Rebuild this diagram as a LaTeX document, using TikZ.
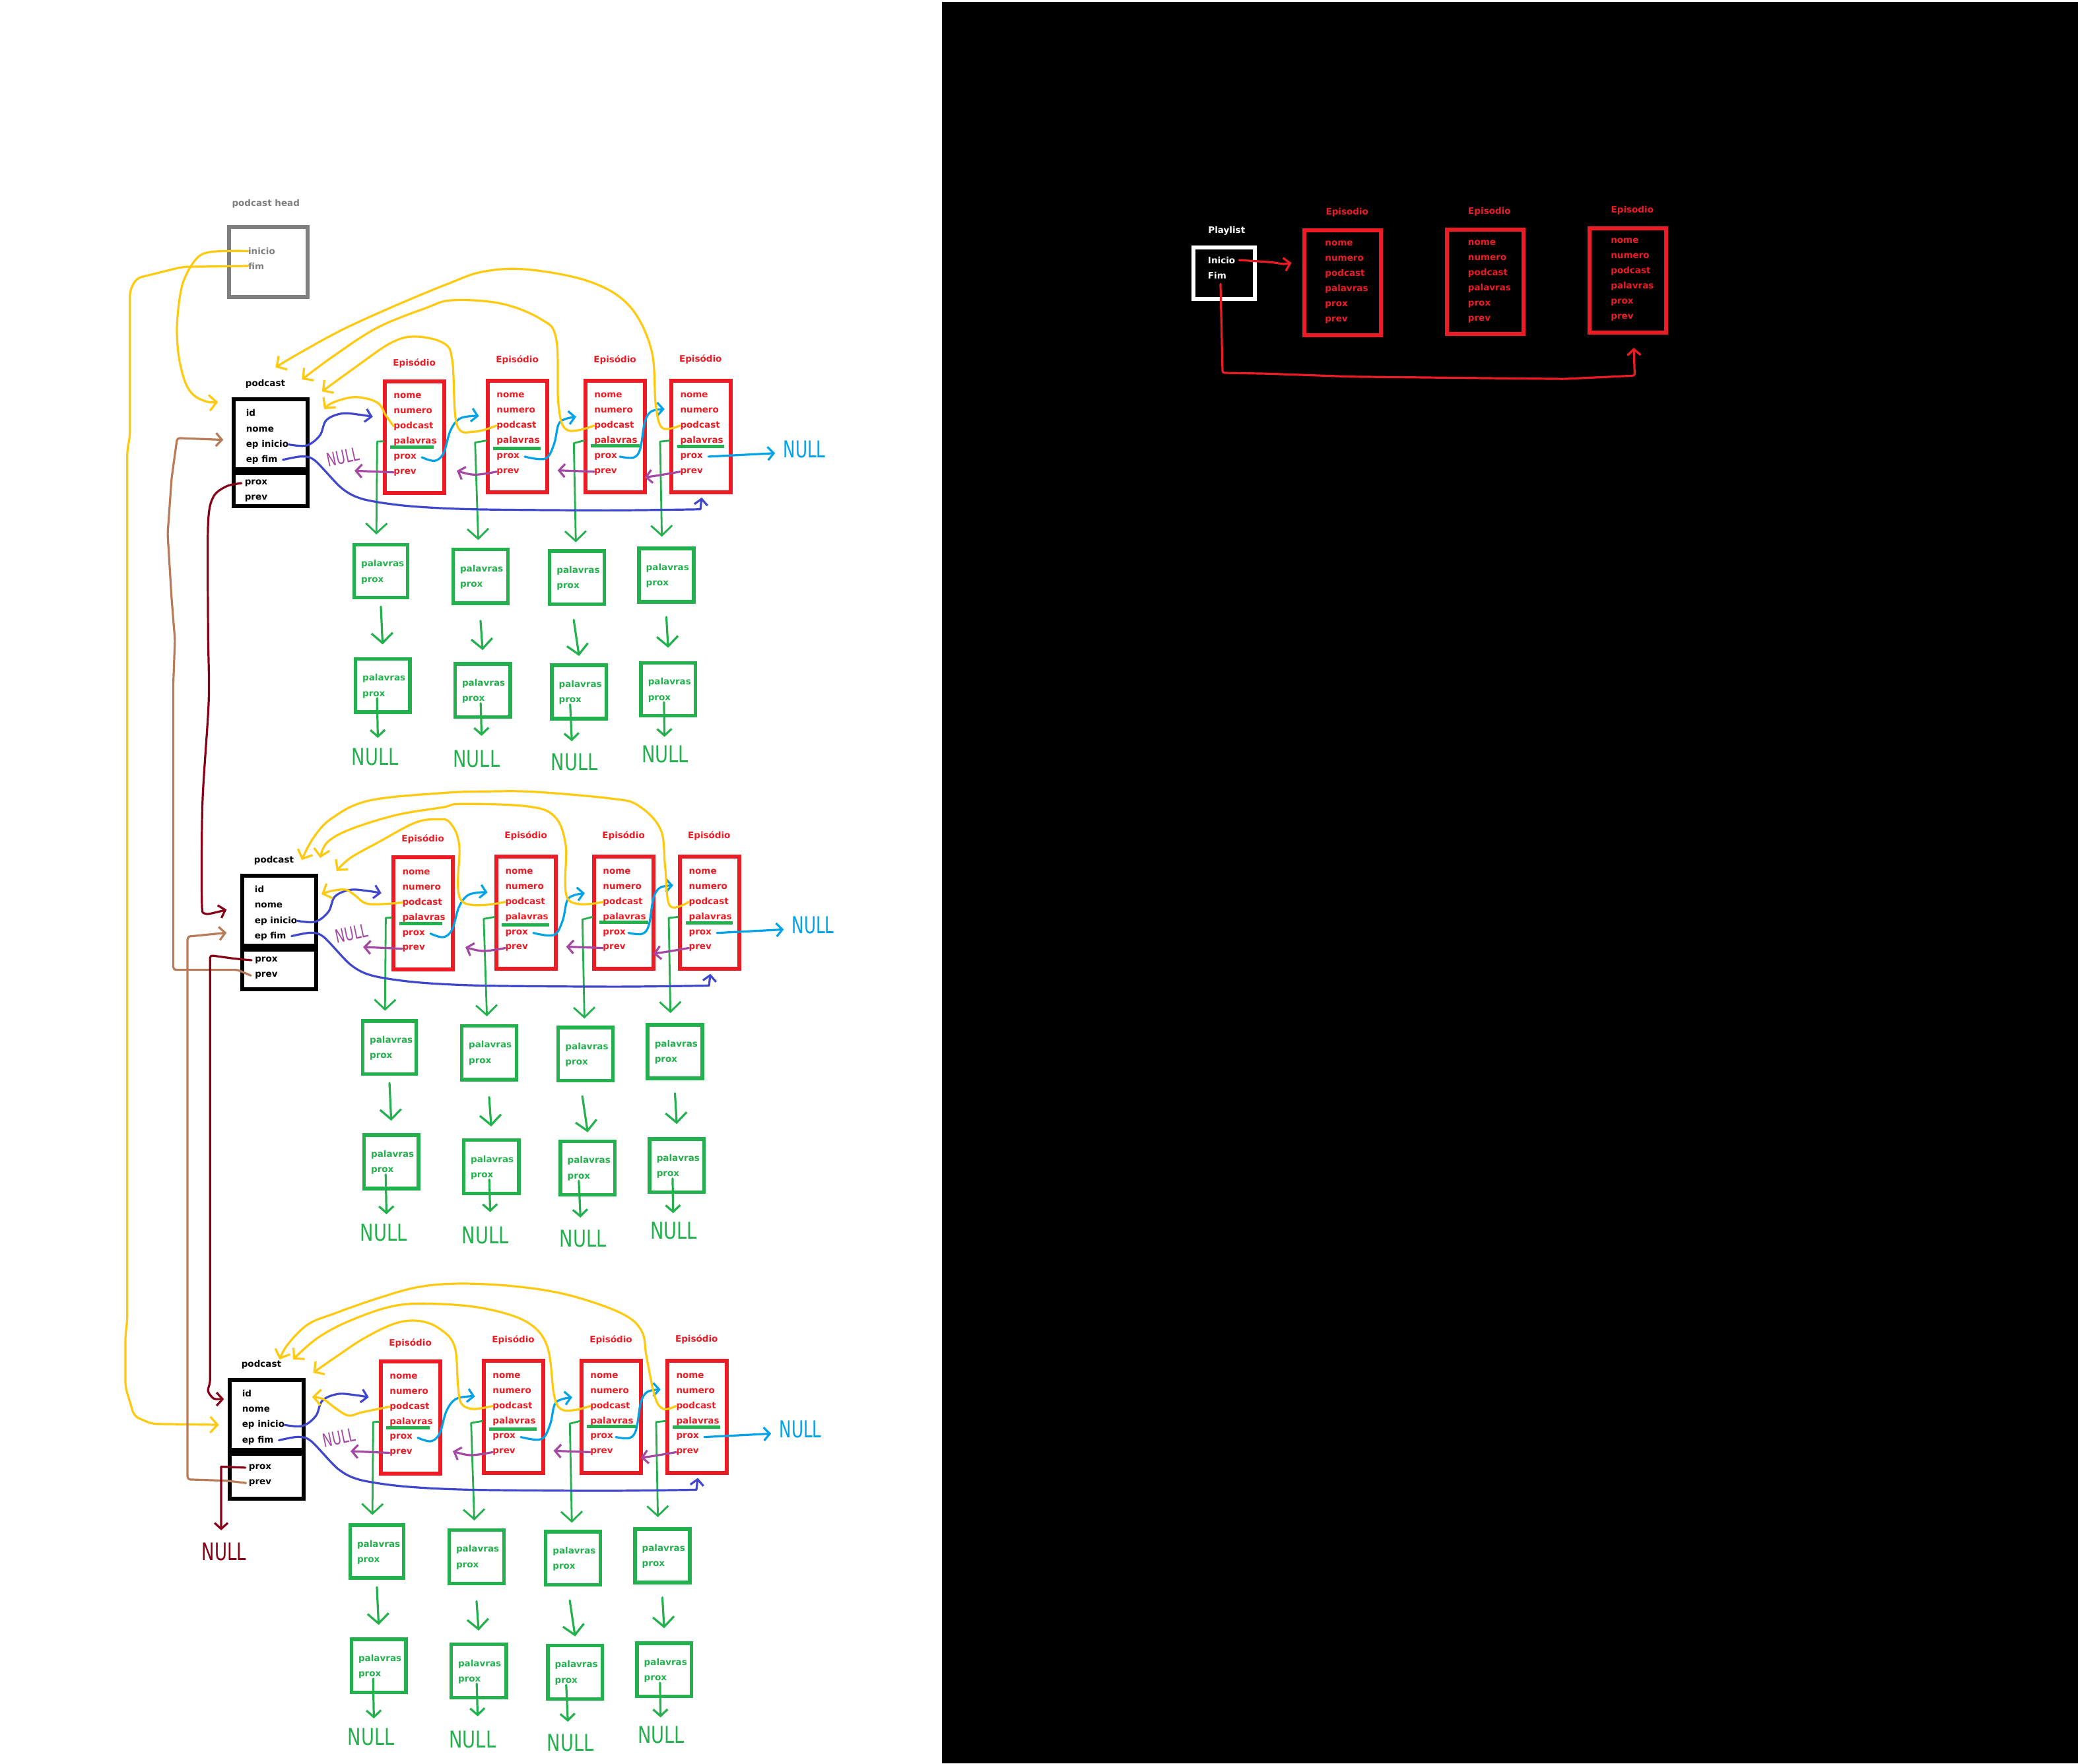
\documentclass[tikz,border=0pt]{standalone}
\usepackage{graphicx}
\usepackage{fontspec}
\setmainfont{DejaVu Sans}
\usetikzlibrary{arrows.meta}
\definecolor{pred}{HTML}{ED1C24}
\definecolor{pgreen}{HTML}{22B14C}
\definecolor{pyel}{HTML}{FFC90E}
\definecolor{pblue}{HTML}{3F48CC}
\definecolor{pcyan}{HTML}{00A2E8}
\definecolor{ppur}{HTML}{A349A4}
\definecolor{pbrown}{HTML}{B97A57}
\definecolor{pmar}{HTML}{880015}
\definecolor{pgray}{HTML}{7F7F7F}
\newcommand\pxu{2.0077pt}
\tikzset{
 txt/.style={font=\fontsize{13.5}{16}\selectfont\bfseries, anchor=base west, inner sep=0pt},
 lab/.style={font=\fontsize{13.5}{16}\selectfont\bfseries, inner sep=0pt},
 bx/.style={draw=#1, line width=6pt, inner sep=0pt},
 wire/.style={line width=3.2pt, line cap=round, line join=round},
 barb/.style={-{Straight Barb[length=9pt,width=20pt]}},
 ybarb/.style={-{Straight Barb[length=11pt,width=24pt]}},
 gbarb/.style={-{Straight Barb[length=15pt,width=32pt]}},
 sbarb/.style={-{Straight Barb[length=10pt,width=22pt]}},
 nul/.style={font=\fontsize{26}{26}\selectfont, inner sep=0pt},
 nulp/.style={font=\fontsize{20}{20}\selectfont, inner sep=0pt},
}
% episode box: name, left x, top y, text x, label y
\newcommand\epi[5]{%
 \node[bx=pred, minimum width={(47.7-3)*\pxu}, minimum height={(87.4-3)*\pxu}] (#1) at ({#2+23.85},{#3+43.7}) {};
 \node[lab,text=pred] (#1l) at ({#2+23.6},#5) {Episódio};
 \foreach \w [count=\i] in {nome,numero,podcast,palavras,prox,prev}
   \node[txt,text=pred] (#1t\i) at (#4,{#3+14.6+(\i-1)*11.38}) {\w};
}
% word box: name, x1, y1, x2, y2
\newcommand\wbx[5]{%
 \node[bx=pgreen, line width=5.5pt, minimum width={(#4-#2-2.7)*\pxu}, minimum height={(#5-#3-2.7)*\pxu}] (#1) at ({(#2+#4)/2},{(#3+#5)/2}) {};
 \node[txt,text=pgreen] (#1a) at ({#2+6.6},{#3+18}) {palavras};
 \node[txt,text=pgreen] (#1b) at ({#2+6.6},{#3+29.6}) {prox};
}
% playlist episode box
\newcommand\repi[8]{%
 \node[bx=pred, minimum width={(#4-#2-3)*\pxu}, minimum height={(#5-#3-3)*\pxu}] (#1) at ({(#2+#4)/2},{(#3+#5)/2}) {};
 \node[lab,text=pred] (#1l) at (#8,{#3-11.8}) {Episodio};
 \foreach \w [count=\i] in {nome,numero,podcast,palavras,prox,prev}
   \node[txt,text=pred] (#1t\i) at (#6,{#7+1.9+(\i-1)*11.42}) {\w};
}
% podcast group: name, shift x, shift y, lower box bottom, lower text dy, lower text dx
\newcommand\pgroup[6]{%
\begin{scope}[shift={(#2,#3)}]
 \node[lab] (#1pl) at (200.2,289.7) {podcast};
 \node[bx=black, minimum width={(59.1-3)*\pxu}, minimum height={(55.7-3)*\pxu}] (#1pu) at (204.25,327.75) {};
 \node[bx=black, minimum width={(59.1-3)*\pxu}, minimum height={(#4-355.6-3)*\pxu}] (#1pd) at (204.25,{(355.6+#4)/2}) {};
 \foreach \w [count=\i] in {id,nome,ep inicio,ep fim}
   \node[txt] (#1p\i) at (185.6,{314.2+(\i-1)*11.57}) {\w};
 \node[txt] (#1p5) at ({184.6+#6},{365.9+#5}) {prox};
 \node[txt] (#1p6) at ({184.6+#6},{377.5+#5}) {prev};
 \epi{#1e1}{289}{286.2}{297}{274}
 \epi{#1e2}{366.7}{285.7}{374.7}{271.5}
 \epi{#1e3}{440.4}{285.7}{448.4}{271.5}
 \epi{#1e4}{505}{285.7}{513.2}{271.1}
 % underlines
 \draw[pgreen, line width=5pt] (294.6,337.5) -- (327.3,337.5);
 \draw[pgreen, line width=5pt] (372,338.7) -- (407.7,338.7);
 \draw[pgreen, line width=5pt] (445.8,336.5) -- (482.5,336.5);
 \draw[pgreen, line width=5pt] (510.8,336.9) -- (546.5,336.9);
 % word boxes
 \wbx{#1w1}{265.8}{409.8}{309}{452.4}
 \wbx{#1w2}{340.5}{413.4}{384.7}{456.6}
 \wbx{#1w3}{413.4}{414.6}{457.4}{457.4}
 \wbx{#1w4}{480.8}{412.6}{524.8}{455.7}
 \wbx{#1v1}{266.8}{495.9}{310.6}{538.8}
 \wbx{#1v2}{342}{499.7}{386.3}{542.6}
 \wbx{#1v3}{415}{500.6}{458.9}{543.7}
 \wbx{#1v4}{482.3}{498.9}{526}{541.6}
 % green links
 \draw[wire,pgreen,gbarb,line width=2.8pt] (#1e1.west |- #1e1t4.west) -- (284.6,333.3) -- (284,403.4);
 \draw[wire,pgreen,gbarb,line width=2.8pt] (#1e2.west |- #1e2t4.west) -- (358.5,334) -- (360.9,407.6);
 \draw[wire,pgreen,gbarb,line width=2.8pt] (#1e3.west |- #1e3t4.west) -- (433,334.5) -- (434.5,409.3);
 \draw[wire,pgreen,gbarb,line width=2.8pt] (#1e4.west |- #1e4t4.west) -- (498.1,333.3) -- (499.4,405.1);
 \draw[wire,pgreen,gbarb] ([yshift=-11pt]#1w1.south) -- ([yshift=19pt]#1v1.north);
 \draw[wire,pgreen,gbarb] ([yshift=-24pt]#1w2.south) -- ([yshift=18pt]#1v2.north);
 \draw[wire,pgreen,gbarb] ([xshift=-5pt,yshift=-21pt]#1w3.south) -- ([yshift=11pt]#1v3.north);
 \draw[wire,pgreen,gbarb] ([yshift=-20pt]#1w4.south) -- ([yshift=20pt]#1v4.north);
 \draw[wire,pgreen,sbarb] ([xshift=5pt]#1v1b.south) -- (285.1,557);
 \draw[wire,pgreen,sbarb] ([xshift=11pt]#1v2b.south) -- (363.4,555.4);
 \draw[wire,pgreen,sbarb] (#1v3b.south) -- (431.5,559.5);
 \draw[wire,pgreen,sbarb] ([xshift=7pt]#1v4b.south) -- (501.4,556.2);
 \node[nul,text=pgreen] (#1n1) at (283,571.1) {\scalebox{1.05}[1.35]{NULL}};
 \node[nul,text=pgreen] (#1n2) at (359.6,572.7) {\scalebox{1.05}[1.35]{NULL}};
 \node[nul,text=pgreen] (#1n3) at (433.5,575.3) {\scalebox{1.05}[1.35]{NULL}};
 \node[nul,text=pgreen] (#1n4) at (501.9,569.5) {\scalebox{1.05}[1.35]{NULL}};
 % blue
 \draw[wire,pblue,barb] plot[smooth,tension=.6] coordinates {(#1p3.east) (231.3,336.2) (241.3,328.7) (246.3,317.1) (258,312.1) (271.3,313) (281.3,314.6)};
 \draw[wire,pblue,barb] plot[smooth,tension=.5] coordinates {([xshift=8pt]#1p4.east) (228,344.5) (237.9,347.8) (258,368.6) (274.6,376.9) (308,381.9) (358,384.4) (458,385.2) (528.5,384.4)} -- (529.5,375.5);
 % cyan
 \draw[wire,pcyan,barb] plot[smooth,tension=.6] coordinates {([xshift=8pt]#1e1t5.east) (328,347.8) (334.7,342) (339.7,325.4) (346.3,316.3) (356,314) (361.4,314.1)};
 \draw[wire,pcyan,barb] plot[smooth,tension=.6] coordinates {([xshift=8pt]#1e2t5.east) (411.4,346.2) (418,335.4) (421.4,320.4) (426.4,316.3) (434.8,314.6)};
 \draw[wire,pcyan,barb] plot[smooth,tension=.6] coordinates {([xshift=4pt]#1e3t5.east) (478.1,345.3) (483.1,338.7) (486.5,318.8) (491.5,310.5) (501.5,308.8)};
 \draw[wire,pcyan,barb] ([xshift=8pt]#1e4t5.east) -- (578.2,342.4) -- (584.9,342);
 \node[nul,text=pcyan] (#1nc) at (607,339) {\scalebox{0.95}[1.35]{NULL}};
 % purple
 \draw[wire,ppur,barb] (#1e1t6.west) -- (267.5,355.3);
 \node[nulp,text=ppur,rotate=12] (#1np) at (258.8,345) {\scalebox{0.95}[1.4]{NULL}};
 \draw[wire,ppur,barb] plot[smooth,tension=.6] coordinates {(#1e2t6.west) (358,358.3) (344.7,355.3)};
 \draw[wire,ppur,barb] (#1e3t6.west) -- (420.7,355);
 \draw[wire,ppur,barb] plot[smooth,tension=.6] coordinates {(#1e4t6.west) (498.1,358.6) (486.5,360.3)};
\end{scope}}

\begin{document}
\begin{tikzpicture}[x=2.0077pt,y=-2.0077pt]
\useasboundingbox (0,0) rectangle (1568,1331);
\fill[white] (0,0) rectangle (1568,1331);
\fill[black] (710.6,1.3) rectangle (1568,1331);

% podcast head
\node[lab,text=pgray] (hl) at (200.6,153.6) {podcast head};
\node[bx=pgray, minimum width={(62.5-3)*\pxu}, minimum height={(55.6-3)*\pxu}] (hb) at (202.45,197.7) {};
\node[txt,text=pgray] (hini) at (187.2,192) {inicio};
\node[txt,text=pgray] (hfim) at (187.2,203.3) {fim};

\pgroup{g1}{0}{0}{383.7}{0}{0}
\pgroup{g2}{6.5}{359.5}{388.6}{0.5}{1.2}
\pgroup{g3}{-3}{740}{392.5}{3}{6}

% yellow arcs group 1
\draw[wire,pyel,ybarb] plot[smooth,tension=.6] coordinates {(g1e1t3.west) (291.3,313.8) (284.6,303.8) (268,299.7) (251.3,303.8) (244.6,308.8)};
\draw[wire,pyel,ybarb] plot[smooth,tension=.6] coordinates {(g1e2t3.west) (358,325.8) (344.7,320.4) (341.3,272.3) (334.7,259) (313,254) (294.6,259) (268,277.3) (243,295.5)};
\draw[wire,pyel,ybarb] plot[smooth,tension=.6] coordinates {(g1e3t3.west) (428,324.6) (421.4,305.5) (419.7,255.7) (408,240.8) (378,229.1) (341.3,226.6) (321.3,232.5) (284.6,247.4) (251.3,269) (227.9,286.4)};
\draw[wire,pyel,ybarb] plot[smooth,tension=.6] coordinates {(g1e4t3.west) (499.8,323) (494.8,305.5) (491.5,264) (474.8,230.8) (444.8,212.5) (398,203.4) (364.7,205) (338,214.2) (298,230.8) (258,249) (224.6,267.3) (207.9,277.3)};

% yellow arcs group 2
\begin{scope}[shift={(6.5,359.5)}]
\draw[wire,pyel,ybarb] plot[smooth,tension=.6] coordinates {(g2e1t3.west) (271.8,322.8) (261.3,316.2) (254.4,312) (243.9,312.9) (236.1,315.4)};
\draw[wire,pyel,ybarb] plot[smooth,tension=.6] coordinates {(g2e2t3.west) (341.7,320.3) (340,278) (333,261.4) (324.2,258.9) (306.8,261.4) (278.8,276.3) (257.9,288) (247.4,297.9)};
\draw[wire,pyel,ybarb] plot[smooth,tension=.6] coordinates {(g2e3t3.west) (422.1,319.2) (420.3,278) (411.6,256.4) (390.6,249) (341.7,247.3) (327.7,249.8) (292.8,255.6) (257.9,266.4) (240.4,276.3) (235.1,288)};
\draw[wire,pyel,ybarb] plot[smooth,tension=.6] coordinates {(g2e4t3.west) (498.9,324.1) (495.4,294.6) (491.9,266.4) (474.5,248.1) (453.5,243.1) (397.6,238.2) (362.7,237.8) (327.7,239) (271.8,244.8) (243.9,258.1) (229.9,273) (221.2,289.6)};
\end{scope}

% yellow arcs group 3
\begin{scope}[shift={(-3,740)}]
\draw[wire,pyel,ybarb] plot[smooth,tension=.6] coordinates {(g3e1t3.west) (276.2,325.9) (266,328.4) (255.8,322.6) (247,316) (238.5,314.3)};
\draw[wire,pyel,ybarb] plot[smooth,tension=.6] coordinates {(g3e2t3.west) (360,323.4) (351.1,319.3) (348.6,306) (346,276.1) (334.6,262.8) (319.4,257) (301.6,258.7) (278.7,269.5) (258.4,282.8) (239.3,296.1)};
\draw[wire,pyel,ybarb] plot[smooth,tension=.6] coordinates {(g3e3t3.west) (436.2,324.3) (426.1,323.4) (421,312.6) (415.9,276.1) (400.7,257.9) (370.2,247.9) (334.6,244.2) (301.6,245.4) (268.5,256.2) (243.1,269.5) (224.1,286.1)};
\draw[wire,pyel,ybarb] plot[smooth,tension=.6] coordinates {(g3e4t3.west) (503.6,323.4) (497.2,314.3) (490.9,284.4) (487.1,264.5) (471.8,251.2) (433.7,237.9) (395.6,231.3) (352.4,228.8) (319.4,231.3) (288.9,239.6) (255.8,251.2) (235.5,259.5) (220.3,274.5) (213.9,286.1)};
\end{scope}

% head links
\draw[wire,pyel,ybarb] plot[smooth,tension=.55] coordinates {(hini.west) (159.4,190.1) (148,195.5) (137.8,214.2) (133.7,242.5) (134.6,267) (139.5,287.9) (146.2,298.3) (156.2,303.2) (164.5,303.5)};
\draw[wire,pyel,ybarb,rounded corners=8pt] (hfim.west) -- (137.8,201.4) -- (102.9,210) -- (98,219.5) -- (98,329.5) -- (96,340) -- (96,996) -- (94.6,1008.6) -- (94.6,1046.8) -- (101.3,1069) -- (114.6,1074.7) -- (165.2,1075.4);

% brown prev links
\draw[wire,pbrown,barb,rounded corners=4pt] ([xshift=-6pt]g2p6.west) -- (179.3,732) -- (130.8,732) -- (130.8,514.8) -- (132,483) -- (129.5,451.8) -- (126.5,403) -- (129.5,361) -- (133.7,330.6) -- (168.5,332);
\draw[wire,pbrown,barb,rounded corners=4pt] ([xshift=-4pt]g3p6.west) -- (171,1117.6) -- (141.5,1116.6) -- (141.5,706.9) -- (171,704);

% maroon prox links
\draw[wire,pmar,barb] plot[smooth,tension=.5] coordinates {([xshift=-5pt]g1p5.west) (171,367) (161,375) (157,396) (157,476) (157.5,528.7) (152.8,605.6) (152.3,680) (154.5,689.5) (163,688.6) (171,686.5)};
\draw[wire,pmar,barb,rounded corners=4pt] ([xshift=-5pt]g2p5.west) -- (176.6,723.5) -- (158.5,721) -- (158.5,1043.5) -- (156.5,1050) -- (161,1056) -- (169,1056);
\draw[wire,pmar,barb] ([xshift=-5pt]g3p5.west) -- (166.9,1107) -- (166.9,1155);
\node[nul,text=pmar] (mnull) at (169,1171) {\scalebox{1.0}[1.4]{NULL}};

% playlist panel
\node[lab,text=white] (pl) at (925.6,174) {Playlist};
\node[bx=white, minimum width={(49.5-3)*\pxu}, minimum height={(42-3)*\pxu}] (plb) at (923.75,206.1) {};
\node[txt,text=white] (ri) at (911.4,198.8) {Inicio};
\node[txt,text=white] (rf) at (911.4,210.2) {Fim};
\repi{r1}{982.7}{172.3}{1043.7}{254.3}{999.8}{183.7}{1016.5}
\repi{r2}{1090.3}{171.8}{1151.3}{253.6}{1107.6}{183.1}{1123.9}
\repi{r3}{1197.8}{170.6}{1258.8}{252.3}{1215.4}{181.8}{1231.7}
\draw[wire,pred,barb] plot[smooth,tension=.5] coordinates {([xshift=6pt]ri.east) (958.5,197.9) (968.4,199.2) (974.6,198.4)};
\draw[wire,pred,barb,rounded corners=3pt] ([xshift=5pt,yshift=-8pt]rf.south) -- (922.5,281.4) -- (955,282) -- (1020,284.3) -- (1130,285.5) -- (1180,286) -- (1233.5,283.5) -- (1232.8,262.5);
\end{tikzpicture}
\end{document}
